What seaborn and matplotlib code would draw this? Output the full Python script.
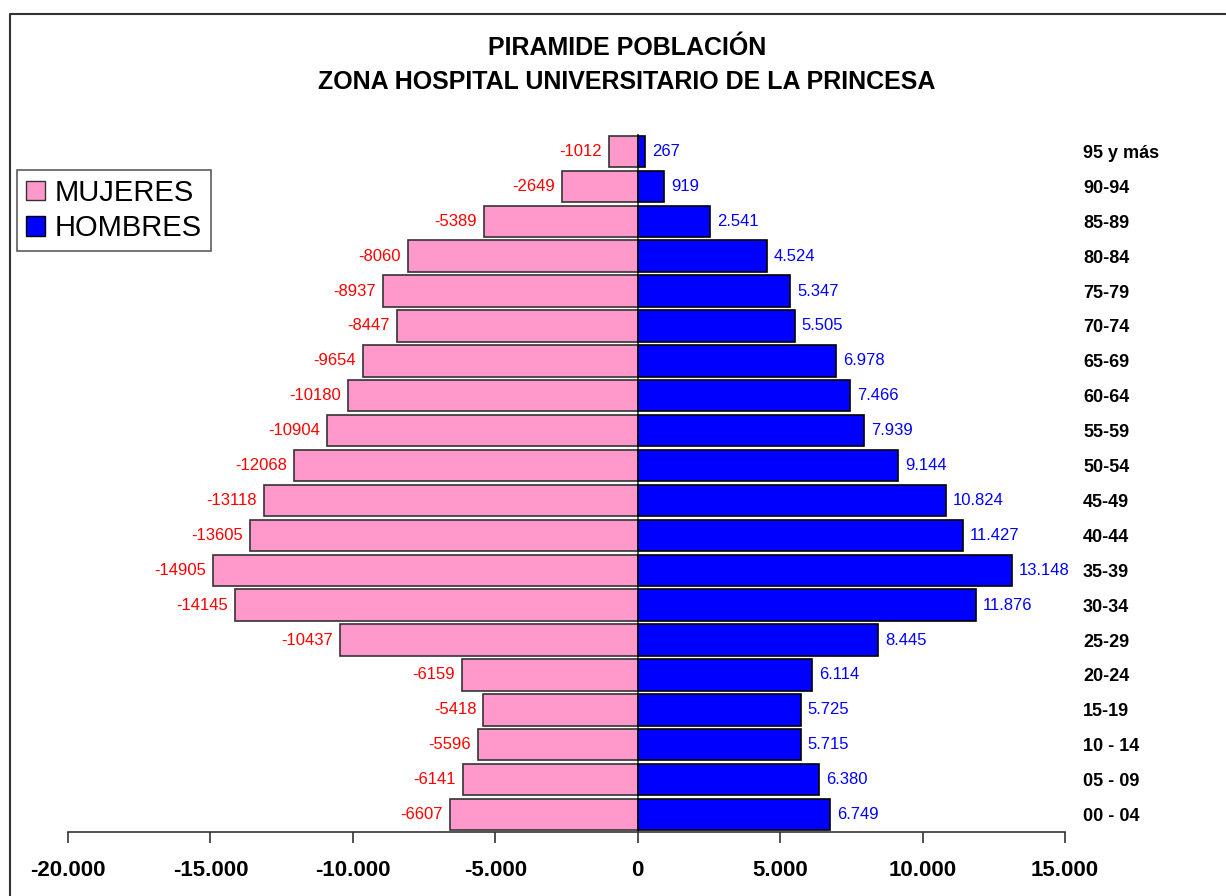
import matplotlib
matplotlib.use('Agg')
import matplotlib.pyplot as plt
import matplotlib.ticker as mticker
from matplotlib.lines import Line2D
from matplotlib.patches import Patch
import pandas as pd
import seaborn as sns

# age groups, listed from top to bottom of the pyramid
edades = ['95 y más', '90-94', '85-89', '80-84', '75-79', '70-74', '65-69',
          '60-64', '55-59', '50-54', '45-49', '40-44', '35-39', '30-34',
          '25-29', '20-24', '15-19', '10 - 14', '05 - 09', '00 - 04']
mujeres = [-1012, -2649, -5389, -8060, -8937, -8447, -9654, -10180, -10904,
           -12068, -13118, -13605, -14905, -14145, -10437, -6159, -5418,
           -5596, -6141, -6607]
hombres = [267, 919, 2541, 4524, 5347, 5505, 6978, 7466, 7939, 9144, 10824,
           11427, 13148, 11876, 8445, 6114, 5725, 5715, 6380, 6749]
x_ticks = [-20000, -15000, -10000, -5000, 0, 5000, 10000, 15000]

pink = '#FF99CC'
blue = '#0000FF'


def miles(v):
    # european thousands separator: 13148 -> 13.148
    return f'{int(v):,}'.replace(',', '.')


df = pd.DataFrame({'edad': edades, 'mujeres': mujeres, 'hombres': hombres})

sns.set_style('white')
plt.rcParams['font.family'] = ['Liberation Sans', 'DejaVu Sans']
plt.rcParams['text.color'] = 'black'
plt.rcParams['xtick.labelcolor'] = 'black'
plt.rcParams['ytick.labelcolor'] = 'black'

fig = plt.figure(figsize=(12.26, 8.96), dpi=100)
ax = fig.add_axes([68 / 1226, 1 - 832 / 896, (1065 - 68) / 1226,
                   (832 - 134) / 896])

sns.barplot(data=df, x='mujeres', y='edad', order=edades, orient='h',
            color=pink, saturation=1, width=0.9, edgecolor='#333333',
            linewidth=1.2, ax=ax)
sns.barplot(data=df, x='hombres', y='edad', order=edades, orient='h',
            color=blue, saturation=1, width=0.9, edgecolor='black',
            linewidth=1.2, ax=ax)

# value labels
for i, (m, h) in enumerate(zip(mujeres, hombres)):
    ax.annotate(str(m), (m, i), xytext=(-5, 0), textcoords='offset points',
                ha='right', va='center', color='#FF0000', fontsize=12)
    ax.annotate(miles(h), (h, i), xytext=(5, 0), textcoords='offset points',
                ha='left', va='center', color=blue, fontsize=12)

ax.set_xlim(-20000, 15000)
ax.set_xticks(x_ticks)
ax.xaxis.set_major_formatter(mticker.FuncFormatter(lambda v, p: miles(v)))
ax.tick_params(axis='x', bottom=True, direction='out', length=8, width=1.2,
               color='#333333', pad=12, labelsize=16)
for lab in ax.get_xticklabels():
    lab.set_fontweight('bold')

ax.yaxis.tick_right()
ax.tick_params(axis='y', length=0, pad=13, labelsize=13)
for lab in ax.get_yticklabels():
    lab.set_fontweight('bold')
    lab.set_horizontalalignment('left')

ax.set_xlabel('')
ax.set_ylabel('')
for side in ['top', 'right', 'left']:
    ax.spines[side].set_visible(False)
ax.spines['bottom'].set_color('#333333')
ax.spines['bottom'].set_linewidth(1.2)
ax.axvline(0, ymin=0, ymax=1, color='#333333', lw=1.2, zorder=0.5)

# titles
fig.text(627 / 1226, 1 - 48 / 896, 'PIRAMIDE POBLACIÓN', ha='center',
         va='center', fontsize=18, fontweight='bold')
fig.text(627 / 1226, 1 - 82 / 896, 'ZONA HOSPITAL UNIVERSITARIO DE LA PRINCESA',
         ha='center', va='center', fontsize=18, fontweight='bold')

# legend
handles = [Patch(facecolor=pink, edgecolor='#333333', label='MUJERES'),
           Patch(facecolor=blue, edgecolor='black', label='HOMBRES')]
leg = fig.legend(handles=handles, loc='upper left',
                 bbox_to_anchor=(17 / 1226, 1 - 170 / 896), fontsize=21,
                 frameon=True, fancybox=False, borderaxespad=0,
                 handlelength=0.65, handleheight=0.65, handletextpad=0.35,
                 labelspacing=0.25, borderpad=0.3)
leg.get_frame().set_edgecolor('#333333')
leg.get_frame().set_linewidth(1.2)

# outer chart frame (left and top edges)
fig.add_artist(Line2D([10 / 1226, 10 / 1226, 1], [0, 1 - 14 / 896, 1 - 14 / 896],
                      transform=fig.transFigure, color='#333333', lw=1.5))

fig.savefig('out.png', dpi=100, facecolor='white')
